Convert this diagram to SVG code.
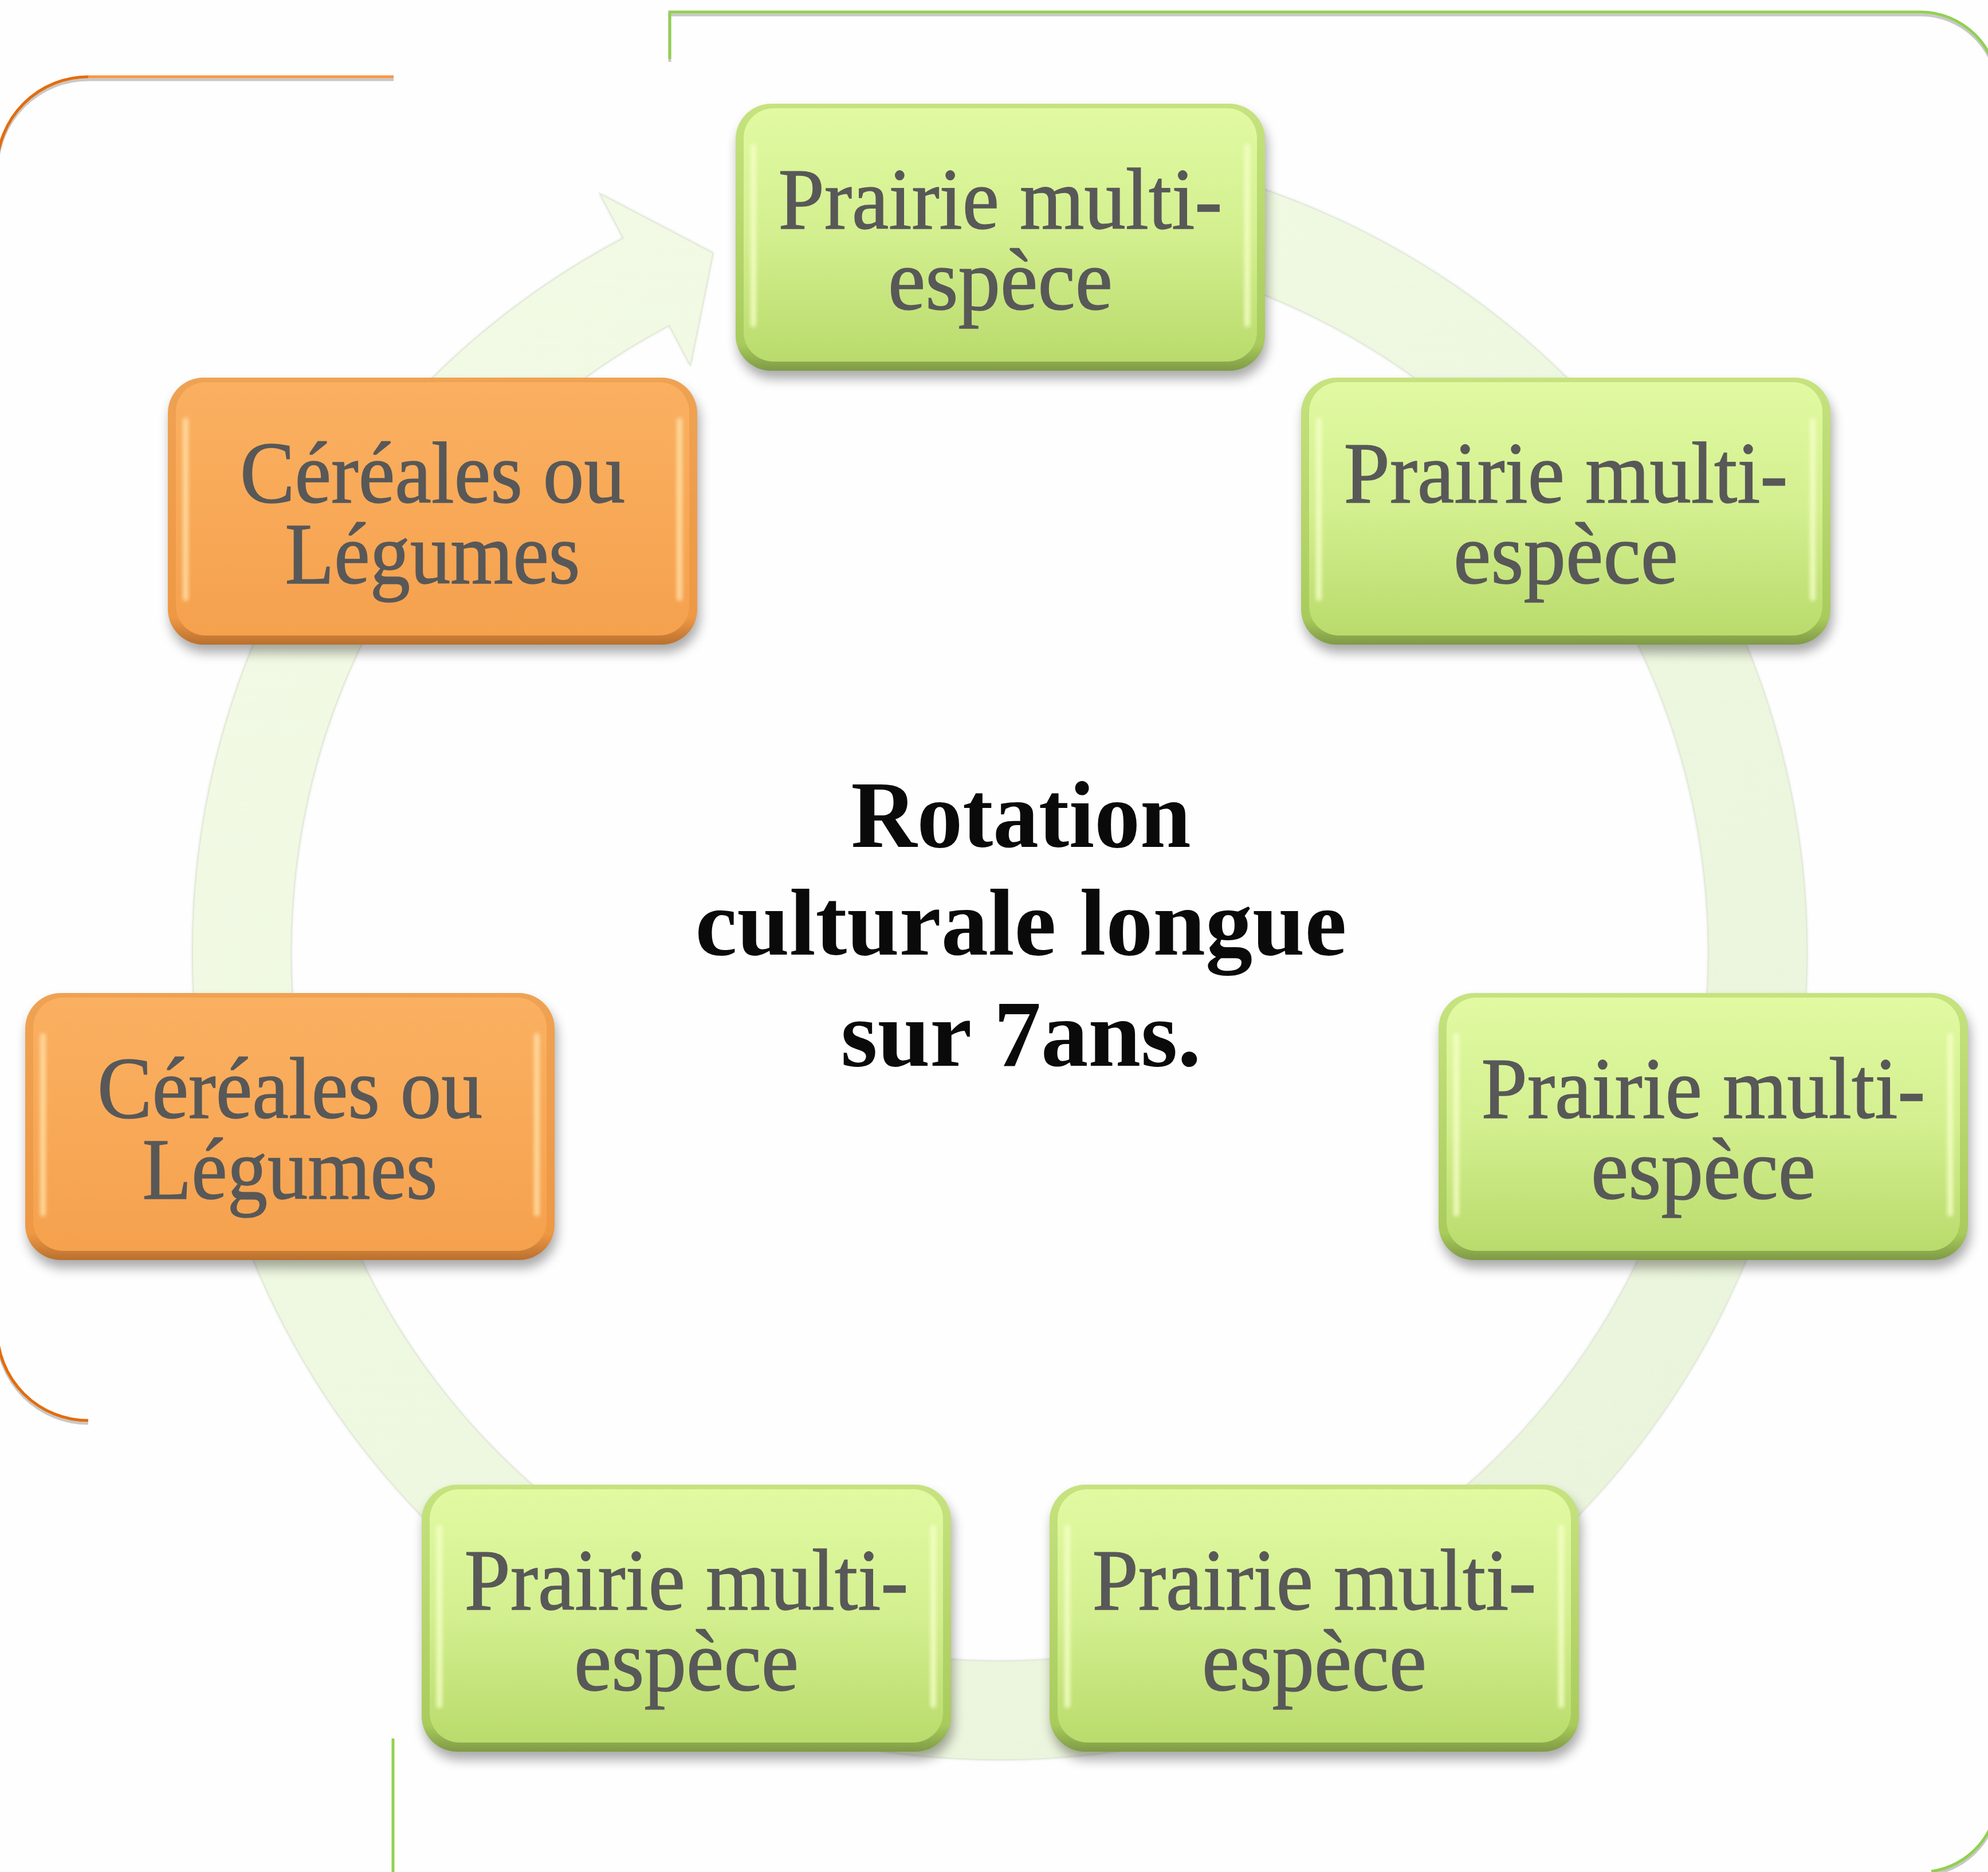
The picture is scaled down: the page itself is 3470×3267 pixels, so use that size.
<svg xmlns="http://www.w3.org/2000/svg" width="3470" height="3267" viewBox="0 0 3470 3267">
<style>
.lbl{font-family:"Liberation Serif","DejaVu Serif",serif;font-size:152px;fill:#585858;stroke:#585858;stroke-width:1.5;text-anchor:middle}
.ctr{font-family:"Liberation Serif","DejaVu Serif",serif;font-size:166px;font-weight:bold;fill:#0a0a0a;text-anchor:middle}
.shd{fill:#000;opacity:0.33;filter:url(#blur)}
.gbase{fill:url(#gEdge)}
.gface{fill:url(#gFace)}
.obase{fill:url(#oEdge)}
.oface{fill:url(#oFace)}
.ghl{fill:#F6FFC8;opacity:0.8;filter:url(#blur2)}
.ohl{fill:#FFE1A8;opacity:0.8;filter:url(#blur2)}
</style>
<defs>
<filter id="blur" x="-10%" y="-10%" width="120%" height="130%"><feGaussianBlur stdDeviation="10"/></filter>
<filter id="blur2" x="-50%" y="-10%" width="200%" height="120%"><feGaussianBlur stdDeviation="3"/></filter>
<filter id="blur3" x="-5%" y="-5%" width="110%" height="110%"><feGaussianBlur stdDeviation="2.5"/></filter>
<linearGradient id="gEdge" x1="0" y1="0" x2="0" y2="1"><stop offset="0" stop-color="#C6E37F"/><stop offset="0.9" stop-color="#A9CB5C"/><stop offset="1" stop-color="#7E9A45"/></linearGradient>
<linearGradient id="gFace" x1="0" y1="0" x2="0" y2="1"><stop offset="0" stop-color="#E1FAA2"/><stop offset="0.5" stop-color="#D3EF8F"/><stop offset="1" stop-color="#B9DB6C"/></linearGradient>
<linearGradient id="oEdge" x1="0" y1="0" x2="0" y2="1"><stop offset="0" stop-color="#EFA253"/><stop offset="0.9" stop-color="#EE9844"/><stop offset="1" stop-color="#B9702E"/></linearGradient>
<linearGradient id="oFace" x1="0" y1="0" x2="0" y2="1"><stop offset="0" stop-color="#FAB061"/><stop offset="0.5" stop-color="#F8A957"/><stop offset="1" stop-color="#F5A14E"/></linearGradient>
<linearGradient id="ring" x1="0" y1="0" x2="1" y2="1"><stop offset="0" stop-color="#F3FBE6"/><stop offset="1" stop-color="#E9F3DA"/></linearGradient>
</defs>
<rect width="3470" height="3267" fill="#FEFEFE"/>

<g id="frames" fill="none" stroke-width="5">
  <g stroke="#C8C8C8" transform="translate(0,5)">
    <path d="M687 134 H154 A159 159 0 0 0 -5 293 V2320 A159 159 0 0 0 154 2479"/>
    <path d="M1169 103 V21 H3352 A135 135 0 0 1 3487 156 V3133 A135 135 0 0 1 3371 3266"/>
  </g>
  <path d="M687 134 H154" stroke="#F79646"/>
  <path d="M154 134 A159 159 0 0 0 -5 293 V2320 A159 159 0 0 0 154 2479" stroke="#E46C0A"/>
  <path d="M1169 103 V21 H3352 A135 135 0 0 1 3487 156 V3133 A135 135 0 0 1 3371 3266" stroke="#92D050"/>
  <path d="M686 3034 V3267" stroke="#92D050"/>
</g>

<g id="connectors">
  <path d="M1989.7 274.4 A1409 1409 0 1 1 1087.9 415.6 L1046.8 337.8 L1244.5 441.6 L1204.9 637.7 L1168.1 567.8 A1237 1237 0 1 0 1959.8 443.8 Z" fill="#A8B29E" opacity="0.55" filter="url(#blur3)"/>
  <path d="M1989.7 274.4 A1409 1409 0 1 1 1087.9 415.6 L1046.8 337.8 L1244.5 441.6 L1204.9 637.7 L1168.1 567.8 A1237 1237 0 1 0 1959.8 443.8 Z" fill="url(#ring)" stroke="#E2EAD6" stroke-width="2"/>
</g>

<g id="n1" transform="translate(1284,181)">
  <rect class="shd" x="4" y="14" width="924" height="466" rx="62"/>
  <rect class="gbase" width="924" height="466" rx="62"/>
  <rect class="gface" x="14" y="8" width="896" height="442" rx="52"/>
  <rect class="ghl" x="26" y="70" width="10" height="320" rx="5"/>
  <rect class="ghl" x="888" y="70" width="10" height="320" rx="5"/>
  <text class="lbl"><tspan x="462" y="218" textLength="775" lengthAdjust="spacingAndGlyphs">Prairie multi-</tspan><tspan x="462" y="359" textLength="392" lengthAdjust="spacingAndGlyphs">espèce</tspan></text>
</g>
<g id="n2" transform="translate(2271,659)">
  <rect class="shd" x="4" y="14" width="924" height="466" rx="62"/>
  <rect class="gbase" width="924" height="466" rx="62"/>
  <rect class="gface" x="14" y="8" width="896" height="442" rx="52"/>
  <rect class="ghl" x="26" y="70" width="10" height="320" rx="5"/>
  <rect class="ghl" x="888" y="70" width="10" height="320" rx="5"/>
  <text class="lbl"><tspan x="462" y="218" textLength="775" lengthAdjust="spacingAndGlyphs">Prairie multi-</tspan><tspan x="462" y="359" textLength="392" lengthAdjust="spacingAndGlyphs">espèce</tspan></text>
</g>
<g id="n3" transform="translate(2511,1733)">
  <rect class="shd" x="4" y="14" width="924" height="466" rx="62"/>
  <rect class="gbase" width="924" height="466" rx="62"/>
  <rect class="gface" x="14" y="8" width="896" height="442" rx="52"/>
  <rect class="ghl" x="26" y="70" width="10" height="320" rx="5"/>
  <rect class="ghl" x="888" y="70" width="10" height="320" rx="5"/>
  <text class="lbl"><tspan x="462" y="218" textLength="775" lengthAdjust="spacingAndGlyphs">Prairie multi-</tspan><tspan x="462" y="359" textLength="392" lengthAdjust="spacingAndGlyphs">espèce</tspan></text>
</g>
<g id="n4" transform="translate(1832,2591)">
  <rect class="shd" x="4" y="14" width="924" height="466" rx="62"/>
  <rect class="gbase" width="924" height="466" rx="62"/>
  <rect class="gface" x="14" y="8" width="896" height="442" rx="52"/>
  <rect class="ghl" x="26" y="70" width="10" height="320" rx="5"/>
  <rect class="ghl" x="888" y="70" width="10" height="320" rx="5"/>
  <text class="lbl"><tspan x="462" y="218" textLength="775" lengthAdjust="spacingAndGlyphs">Prairie multi-</tspan><tspan x="462" y="359" textLength="392" lengthAdjust="spacingAndGlyphs">espèce</tspan></text>
</g>
<g id="n5" transform="translate(736,2591)">
  <rect class="shd" x="4" y="14" width="924" height="466" rx="62"/>
  <rect class="gbase" width="924" height="466" rx="62"/>
  <rect class="gface" x="14" y="8" width="896" height="442" rx="52"/>
  <rect class="ghl" x="26" y="70" width="10" height="320" rx="5"/>
  <rect class="ghl" x="888" y="70" width="10" height="320" rx="5"/>
  <text class="lbl"><tspan x="462" y="218" textLength="775" lengthAdjust="spacingAndGlyphs">Prairie multi-</tspan><tspan x="462" y="359" textLength="392" lengthAdjust="spacingAndGlyphs">espèce</tspan></text>
</g>
<g id="n6" transform="translate(44,1733)">
  <rect class="shd" x="4" y="14" width="924" height="466" rx="62"/>
  <rect class="obase" width="924" height="466" rx="62"/>
  <rect class="oface" x="14" y="8" width="896" height="442" rx="52"/>
  <rect class="ohl" x="26" y="70" width="10" height="320" rx="5"/>
  <rect class="ohl" x="888" y="70" width="10" height="320" rx="5"/>
  <text class="lbl"><tspan x="462" y="218" textLength="672" lengthAdjust="spacingAndGlyphs">Céréales ou</tspan><tspan x="462" y="359" textLength="515" lengthAdjust="spacingAndGlyphs">Légumes</tspan></text>
</g>
<g id="n7" transform="translate(293,659)">
  <rect class="shd" x="4" y="14" width="924" height="466" rx="62"/>
  <rect class="obase" width="924" height="466" rx="62"/>
  <rect class="oface" x="14" y="8" width="896" height="442" rx="52"/>
  <rect class="ohl" x="26" y="70" width="10" height="320" rx="5"/>
  <rect class="ohl" x="888" y="70" width="10" height="320" rx="5"/>
  <text class="lbl"><tspan x="462" y="218" textLength="672" lengthAdjust="spacingAndGlyphs">Céréales ou</tspan><tspan x="462" y="359" textLength="515" lengthAdjust="spacingAndGlyphs">Légumes</tspan></text>
</g>

<g id="center">
  <text class="ctr"><tspan x="1782" y="1478" textLength="593" lengthAdjust="spacingAndGlyphs">Rotation</tspan><tspan x="1782" y="1666" textLength="1137" lengthAdjust="spacingAndGlyphs">culturale longue</tspan><tspan x="1782" y="1860" textLength="629" lengthAdjust="spacingAndGlyphs">sur 7ans.</tspan></text>
</g>
</svg>
